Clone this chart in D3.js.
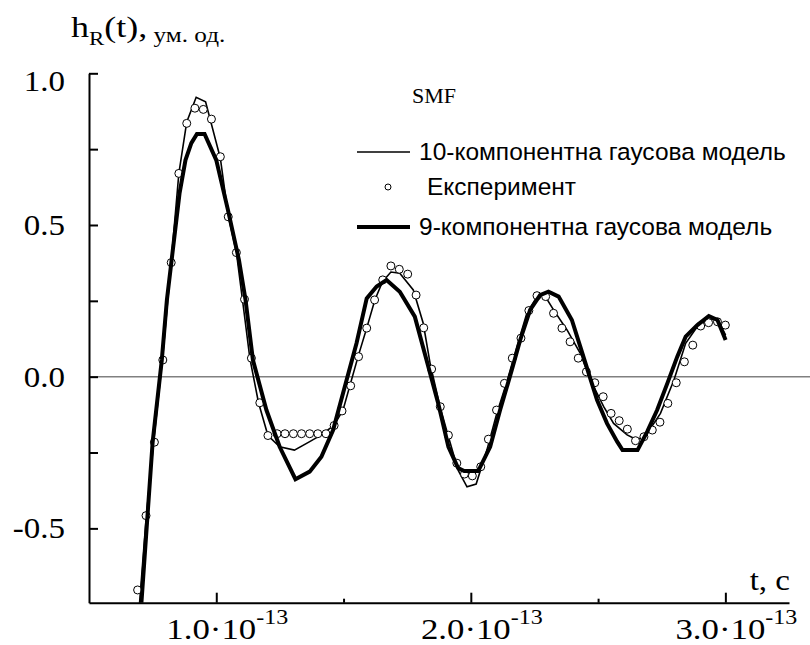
<!DOCTYPE html>
<html>
<head>
<meta charset="utf-8">
<script src="https://cdn.jsdelivr.net/npm/d3@7"></script>
<style>
    body { margin: 0; background: #fff; }
    svg { display: block; }
</style>
</head>
<body>
<svg id="chart" width="810" height="645"></svg>
<script>
// Experiment (circles), t in units of 1e-13 s
var expT = [0.691, 0.724, 0.757, 0.790, 0.823, 0.853, 0.884, 0.916, 0.949, 0.981,
    1.016, 1.047, 1.079, 1.111, 1.138, 1.171, 1.203, 1.239, 1.270, 1.303,
    1.335, 1.367, 1.399, 1.431, 1.463, 1.494, 1.528, 1.559, 1.591, 1.622,
    1.654, 1.686, 1.719, 1.752, 1.785, 1.815, 1.846, 1.880, 1.912, 1.945,
    1.975, 2.006, 2.039, 2.069, 2.101, 2.132, 2.163, 2.197, 2.228, 2.260,
    2.294, 2.325, 2.358, 2.390, 2.422, 2.454, 2.487, 2.520, 2.551, 2.583,
    2.615, 2.647, 2.680, 2.713, 2.743, 2.774, 2.807, 2.839, 2.872, 2.903,
    2.934, 2.969, 3.000];
var expY = [-0.703, -0.458, -0.216, 0.055, 0.376, 0.670, 0.835, 0.885, 0.881, 0.849,
    0.725, 0.527, 0.409, 0.255, 0.061, -0.086, -0.194, -0.188, -0.188, -0.188,
    -0.188, -0.188, -0.188, -0.188, -0.161, -0.113, -0.030, 0.066, 0.160, 0.253,
    0.319, 0.365, 0.354, 0.338, 0.269, 0.161, 0.025, -0.099, -0.193, -0.285,
    -0.321, -0.327, -0.297, -0.206, -0.110, -0.022, 0.061, 0.127, 0.218, 0.267,
    0.264, 0.209, 0.160, 0.115, 0.061, 0.016, -0.020, -0.066, -0.121, -0.145,
    -0.173, -0.211, -0.198, -0.176, -0.150, -0.088, -0.020, 0.049, 0.104, 0.167,
    0.178, 0.181, 0.170];

// 10-component gaussian model (thin line)
var model10T = [0.69, 0.724, 0.757, 0.790, 0.823, 0.853, 0.884, 0.921, 0.958, 1.016,
    1.047, 1.079, 1.111, 1.132, 1.166, 1.203, 1.249, 1.307, 1.367, 1.413,
    1.463, 1.498, 1.557, 1.591, 1.623, 1.653, 1.686, 1.721, 1.774, 1.813,
    1.840, 1.879, 1.912, 1.950, 1.985, 2.021, 2.063, 2.102, 2.142, 2.181,
    2.220, 2.260, 2.286, 2.325, 2.378, 2.430, 2.470, 2.522, 2.561, 2.614,
    2.654, 2.693, 2.745, 2.798, 2.844, 2.890, 2.929, 2.969, 3.001];
var model10Y = [-0.84, -0.47, -0.19, 0.07, 0.38, 0.67, 0.84, 0.921, 0.906, 0.72,
    0.53, 0.41, 0.20, 0.06, -0.086, -0.194, -0.231, -0.242, -0.214, -0.192,
    -0.16, -0.110, 0.066, 0.160, 0.253, 0.313, 0.345, 0.341, 0.286, 0.176,
    0.044, -0.099, -0.198, -0.308, -0.363, -0.354, -0.242, -0.121, -0.016, 0.099,
    0.209, 0.264, 0.273, 0.220, 0.154, 0.077, -0.011, -0.099, -0.154, -0.192,
    -0.209, -0.187, -0.121, -0.011, 0.110, 0.165, 0.187, 0.190, 0.137];

// 9-component gaussian model (thick line)
var model9T = [0.69, 0.706, 0.750, 0.786, 0.806, 0.856, 0.879, 0.902, 0.924, 0.954,
    1.000, 1.046, 1.089, 1.115, 1.144, 1.197, 1.249, 1.311, 1.367, 1.413,
    1.459, 1.512, 1.551, 1.591, 1.630, 1.669, 1.721, 1.780, 1.826, 1.872,
    1.912, 1.950, 1.974, 2.029, 2.076, 2.115, 2.161, 2.194, 2.233, 2.272,
    2.305, 2.345, 2.397, 2.430, 2.463, 2.496, 2.535, 2.575, 2.596, 2.655,
    2.693, 2.732, 2.772, 2.811, 2.844, 2.890, 2.935, 2.969, 3.001];
var model9Y = [-0.94, -0.745, -0.216, 0.055, 0.253, 0.606, 0.714, 0.770, 0.800, 0.800,
    0.714, 0.549, 0.385, 0.253, 0.055, -0.110, -0.231, -0.338, -0.313, -0.264,
    -0.176, -0.011, 0.110, 0.258, 0.297, 0.319, 0.280, 0.198, 0.055, -0.088,
    -0.231, -0.301, -0.311, -0.311, -0.231, -0.110, 0.022, 0.121, 0.220, 0.269,
    0.280, 0.264, 0.187, 0.099, 0.011, -0.077, -0.154, -0.214, -0.242, -0.242,
    -0.181, -0.110, -0.022, 0.066, 0.132, 0.170, 0.200, 0.187, 0.121];

// Axis ticks and labels
var xMajorTicks = [1.0, 2.0, 3.0];
var xMinorTicks = [1.5, 2.5];
var xTickLabels = ['1.0\u00b710', '2.0\u00b710', '3.0\u00b710'];
var xTickExponent = '-13';
var yTicks = [-0.5, -0.25, 0, 0.25, 0.5, 0.75, 1.0];
var yTickLabels = ['-0.5', '', '0.0', '', '0.5', '', '1.0'];

var legendLabels = ['10-компонентна гаусова модель', 'Експеримент', '9-компонентна гаусова модель'];

var SERIF = '"Liberation Serif", "Times New Roman", serif';
var SANS = '"Liberation Sans", Arial, sans-serif';
var SX = 1.2; // serif texts in the source are drawn a bit wider

var svg = d3.select('#chart');

var x = d3.scaleLinear().domain([0.5, 3.25]).range([89, 789]);
var y = d3.scaleLinear().domain([-0.745, 1.0]).range([602.7, 73.3]);

// places a horizontally stretched text group
function stretched(parent, px, py, sx) {
    return parent.append('g')
        .attr('transform', 'translate(' + px + ',' + py + ') scale(' + sx + ',1)')
        .append('text')
        .attr('fill', '#000');
}

// Clip for the curves
svg.append('clipPath')
    .attr('id', 'plotclip')
    .append('rect')
    .attr('x', x(0.5))
    .attr('y', y(1.0) - 40)
    .attr('width', x(3.25) - x(0.5))
    .attr('height', y(-0.745) - y(1.0) + 40);

// Zero line
svg.append('line')
    .attr('x1', x(0.5))
    .attr('x2', 810)
    .attr('y1', y(0))
    .attr('y2', y(0))
    .style('stroke', '#808080')
    .style('stroke-width', 1.5);

// Y axis, ticks pointing inside, labels drawn separately
var yAxis = d3.axisLeft(y)
    .tickValues(yTicks)
    .tickSizeInner(-9)
    .tickSizeOuter(0)
    .tickFormat('');
var gY = svg.append('g')
    .attr('transform', 'translate(' + x(0.5) + ',0)')
    .call(yAxis);
gY.select('.domain').style('stroke', '#000').style('stroke-width', 2);
gY.selectAll('.tick line').style('stroke', '#000').style('stroke-width', 2);

var gYLabels = svg.append('g');
yTicks.forEach(function(d, i) {
    if (!yTickLabels[i]) return;
    var shift = d === 1.0 ? 8 : 0;
    stretched(gYLabels, 65, y(d) + 10 + shift, 1.1)
        .attr('text-anchor', 'end')
        .style('font-family', SERIF)
        .style('font-size', '30px')
        .text(yTickLabels[i]);
});

// X axis, major and minor ticks pointing up
var xAxis = d3.axisBottom(x)
    .tickValues(xMajorTicks)
    .tickSizeInner(-10)
    .tickSizeOuter(0)
    .tickFormat('');
var gX = svg.append('g')
    .attr('transform', 'translate(0,' + y(-0.745) + ')')
    .call(xAxis);
gX.select('.domain').style('stroke', '#000').style('stroke-width', 2);
gX.selectAll('.tick line').style('stroke', '#000').style('stroke-width', 2);

var xAxisMinor = d3.axisBottom(x)
    .tickValues(xMinorTicks)
    .tickSizeInner(-4)
    .tickSizeOuter(0)
    .tickFormat('');
var gXm = svg.append('g')
    .attr('transform', 'translate(0,' + y(-0.745) + ')')
    .call(xAxisMinor);
gXm.select('.domain').remove();
gXm.selectAll('.tick line').style('stroke', '#000').style('stroke-width', 2);

// X tick labels with exponent
var gXLabels = svg.append('g');
xMajorTicks.forEach(function(d, i) {
    var t = stretched(gXLabels, x(d) + 11, 639, SX)
        .attr('text-anchor', 'middle')
        .style('font-family', SERIF)
        .style('font-size', '29px');
    t.append('tspan').text(xTickLabels[i]);
    t.append('tspan')
        .attr('dy', -15)
        .style('font-size', '20px')
        .text(xTickExponent);
});

// Axis titles
stretched(svg, 790, 590, 1.1)
    .attr('text-anchor', 'end')
    .style('font-family', SERIF)
    .style('font-size', '30px')
    .text('t, c');

var title = stretched(svg, 71, 37, SX)
    .style('font-family', SERIF)
    .style('font-size', '30px');
title.append('tspan').text('h');
title.append('tspan').attr('dy', 8).style('font-size', '19px').text('R');
title.append('tspan').attr('dy', -8).text('(t),');
title.append('tspan').attr('dy', 5).style('font-size', '21px').text(' ум. од.');

stretched(svg, 412, 103, 1.0)
    .style('font-family', SERIF)
    .style('font-size', '22px')
    .text('SMF');

// Curves
var line = d3.line()
    .x(function(d) { return x(d[0]); })
    .y(function(d) { return y(d[1]); });

var plot = svg.append('g').attr('clip-path', 'url(#plotclip)');

plot.append('path')
    .datum(d3.zip(model10T, model10Y))
    .attr('d', line)
    .style('fill', 'none')
    .style('stroke', '#000')
    .style('stroke-width', 1.6);

plot.selectAll('circle')
    .data(d3.zip(expT, expY))
    .enter()
    .append('circle')
    .attr('cx', function(d) { return x(d[0]); })
    .attr('cy', function(d) { return y(d[1]); })
    .attr('r', 4)
    .style('fill', '#fff')
    .style('stroke', '#000')
    .style('stroke-width', 1);

plot.append('path')
    .datum(d3.zip(model9T, model9Y))
    .attr('d', line)
    .style('fill', 'none')
    .style('stroke', '#000')
    .style('stroke-width', 4);

// Legend
var legend = svg.append('g');
var legendY = [152, 187, 227];
legend.append('line')
    .attr('x1', 357).attr('x2', 410)
    .attr('y1', legendY[0]).attr('y2', legendY[0])
    .style('stroke', '#000').style('stroke-width', 1.6);
legend.append('circle')
    .attr('cx', 388).attr('cy', legendY[1]).attr('r', 3)
    .style('fill', '#fff').style('stroke', '#000').style('stroke-width', 1);
legend.append('line')
    .attr('x1', 357).attr('x2', 410)
    .attr('y1', legendY[2]).attr('y2', legendY[2])
    .style('stroke', '#000').style('stroke-width', 4);
legend.selectAll('text')
    .data(legendLabels)
    .enter()
    .append('text')
    .attr('x', function(d, i) { return i === 1 ? 427 : 419; })
    .attr('y', function(d, i) { return legendY[i] + 8; })
    .style('font-family', SANS)
    .style('font-size', '24.5px')
    .attr('fill', '#000')
    .text(function(d) { return d; });
</script>
</body>
</html>
